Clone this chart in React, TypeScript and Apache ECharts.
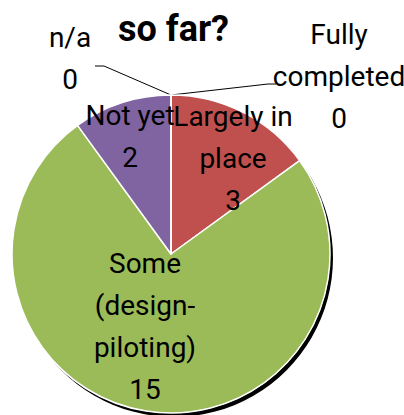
import React, { useEffect, useRef } from "react";
import * as echarts from "echarts";

const categories = ["Fully\ncompleted", "Largely in\nplace", "Some\n(design-\npiloting)", "Not yet", "n/a"];
const values = [0, 3, 15, 2, 0];
const colors = ["#4F81BD", "#C0504D", "#9BBB59", "#8064A2", "#4BACC6"];
const titleText = "so far?";

const FONT = "'Liberation Sans Narrow', Roboto, sans-serif";
const CX = 171;
const CY = 254;
const R = 159;

// label anchor positions relative to the pie centre
const labelPos: Record<number, [number, number]> = {
  0: [168, -178],
  1: [62, -96],
  2: [-26, 72],
  3: [-41, -118],
  4: [-101, -196],
};

export default function App() {
  const ref = useRef<HTMLDivElement>(null);
  useEffect(() => {
    if (!ref.current) return;
    const chart = echarts.init(ref.current, null, { renderer: "svg" });
    const top: [number, number] = [CX, CY - R];
    chart.setOption({
      animation: false,
      backgroundColor: "#ffffff",
      title: {
        text: titleText,
        left: 113,
        top: 6,
        textStyle: { fontFamily: FONT, fontSize: 36, fontWeight: "bold", color: "#000" },
      },
      series: [
        {
          type: "pie",
          silent: true,
          center: [CX, CY],
          radius: R,
          label: { show: false },
          labelLine: { show: false },
          itemStyle: {
            color: "#ffffff",
            shadowColor: "rgba(0,0,0,1)",
            shadowBlur: 1.5,
            shadowOffsetX: 3,
            shadowOffsetY: 4,
          },
          data: [{ value: 1, name: "bg" }],
          z: 1,
        },
        {
          type: "pie",
          center: [CX, CY],
          radius: R,
          startAngle: 90,
          clockwise: true,
          avoidLabelOverlap: false,
          z: 2,
          itemStyle: { borderColor: "#ffffff", borderWidth: 1.5 },
          label: {
            show: true,
            position: "inside",
            formatter: (p: any) => `${p.name}\n${p.value}`,
            fontFamily: FONT,
            fontSize: 28,
            lineHeight: 42,
            color: "#000",
            align: "center",
          },
          labelLine: { show: true, lineStyle: { color: "#000", width: 1 } },
          labelLayout: (params: any) => {
            const i = params.dataIndex;
            const pos = labelPos[i];
            const res: any = {
              x: CX + pos[0],
              y: CY + pos[1],
              align: "center",
              verticalAlign: "middle",
            };
            if (i === 0) {
              res.labelLinePoints = [top, [CX + 97, CY - R - 11], [CX + 105, CY - R - 11]];
            } else if (i === 4) {
              res.labelLinePoints = [top, [CX - 67, CY - R - 29], [CX - 76, CY - R - 29]];
            }
            return res;
          },
          data: categories.map((name, i) => ({
            name,
            value: values[i],
            itemStyle: { color: colors[i] },
            label: values[i] === 0 ? { position: "outside" } : { position: "inside" },
            labelLine: { show: values[i] === 0 },
          })),
        },
      ],
    });
    return () => chart.dispose();
  }, []);
  return (
    <div
      ref={ref}
      style={{ position: "fixed", left: 0, top: 0, width: 404, height: 415 }}
    />
  );
}
